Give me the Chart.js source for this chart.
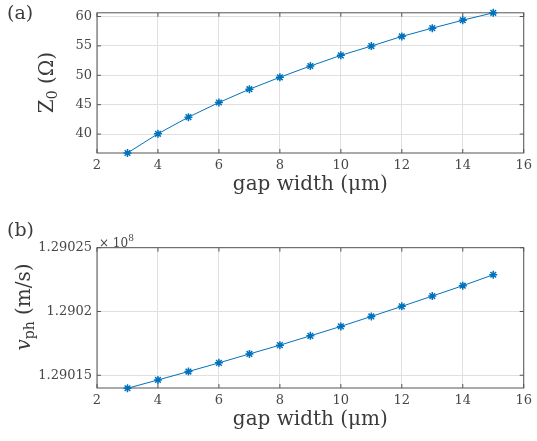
<!DOCTYPE html>
<html><head><meta charset="utf-8">
<script src="https://cdn.jsdelivr.net/npm/chart.js@4/dist/chart.umd.min.js"></script>
<style>
html,body{margin:0;padding:0;background:#fff;}
#wrap{position:relative;width:537px;height:441px;overflow:hidden;}
canvas{position:absolute;left:0;}
#c1{top:0;} #c2{top:200px;}
</style></head><body>
<div id="wrap">
<canvas id="c1" width="537" height="200"></canvas>
<canvas id="c2" width="537" height="241"></canvas>
</div>
<script>
// Gap width sweep (µm)
const gapWidth = [3, 4, 5, 6, 7, 8, 9, 10, 11, 12, 13, 14, 15];
// Characteristic impedance Z0 (Ohm)
const z0 = [36.78, 40.05, 42.88, 45.37, 47.63, 49.66, 51.58, 53.39, 54.97, 56.61, 58.02, 59.37, 60.63];
// Phase velocity, in units of 1e8 m/s
const vphE8 = [1.2901398, 1.2901463, 1.2901529, 1.2901597, 1.2901667, 1.2901736, 1.2901809,
               1.2901883, 1.2901961, 1.2902040, 1.2902121, 1.2902202, 1.2902288];

const xTicks = [2, 4, 6, 8, 10, 12, 14, 16];
const z0Ticks = [40, 45, 50, 55, 60];
const vphTicks = [1.29015, 1.2902, 1.29025];
const vphTickLabels = ['1.29015', '1.2902', '1.29025'];

const FONT = '"DejaVu Serif", serif';
const LINE = '#0072BD';
const TICK_COLOR = '#474747';
const LABEL_COLOR = '#3a3a3a';
const GRID = '#e0e0e0';

// Axes box with inward tick marks on all four sides (MATLAB-style)
const boxPlugin = {
  id: 'box',
  beforeDatasetsDraw(chart) {
    const {ctx, chartArea: a, scales} = chart;
    const tl = 4;
    ctx.save();
    ctx.strokeStyle = '#555';
    ctx.lineWidth = 1;
    ctx.beginPath();
    for (const t of scales.x.ticks) {
      const px = scales.x.getPixelForValue(t.value);
      ctx.moveTo(px, a.bottom); ctx.lineTo(px, a.bottom - tl);
      ctx.moveTo(px, a.top); ctx.lineTo(px, a.top + tl);
    }
    for (const t of scales.y.ticks) {
      const py = scales.y.getPixelForValue(t.value);
      ctx.moveTo(a.left, py); ctx.lineTo(a.left + tl, py);
      ctx.moveTo(a.right, py); ctx.lineTo(a.right - tl, py);
    }
    ctx.stroke();
    ctx.strokeRect(a.left, a.top, a.right - a.left, a.bottom - a.top);
    ctx.restore();
  }
};

// Draws text runs (normal / subscript / superscript) along a baseline
function drawRuns(ctx, runs, x, y) {
  let cx = x;
  for (const r of runs) {
    ctx.font = r.font;
    ctx.fillText(r.text, cx, y + (r.dy || 0));
    cx += ctx.measureText(r.text).width;
  }
}
function runsWidth(ctx, runs) {
  let w = 0;
  for (const r of runs) { ctx.font = r.font; w += ctx.measureText(r.text).width; }
  return w;
}

// Panel letter, rotated y-axis title and optional exponent note
function annotPlugin(opts) {
  return {
    id: 'annot',
    afterDraw(chart) {
      const ctx = chart.ctx;
      ctx.save();
      ctx.fillStyle = LABEL_COLOR;
      ctx.textBaseline = 'middle';
      ctx.textAlign = 'left';
      ctx.font = '19px ' + FONT;
      ctx.fillText(opts.panel, 7, opts.panelY);

      ctx.save();
      ctx.translate(opts.yTitleX, opts.yTitleY);
      ctx.rotate(-Math.PI / 2);
      const w = runsWidth(ctx, opts.yTitle);
      drawRuns(ctx, opts.yTitle, -w / 2, 0);
      ctx.restore();

      if (opts.exponent) {
        ctx.fillStyle = TICK_COLOR;
        ctx.textBaseline = 'alphabetic';
        drawRuns(ctx, opts.exponent, 99, opts.exponentY);
      }
      ctx.restore();
    }
  };
}

function makeChart(id, yValues, yMin, yMax, yTicks, yLabel, padTop, xAxisHeight, titlePad, annot) {
  return new Chart(document.getElementById(id), {
    type: 'line',
    data: {
      datasets: [{
        data: gapWidth.map((x, i) => ({x: x, y: yValues[i]})),
        borderColor: LINE,
        borderWidth: 1,
        pointStyle: 'star',
        pointRadius: 4,
        pointBorderColor: LINE,
        pointBackgroundColor: LINE,
        pointBorderWidth: 1.5,
        tension: 0,
        clip: false
      }]
    },
    options: {
      responsive: false,
      animation: false,
      layout: {padding: {top: padTop, right: 10, left: 0, bottom: 0}},
      plugins: {legend: {display: false}, tooltip: {enabled: false}},
      scales: {
        x: {
          type: 'linear', min: 2, max: 16,
          afterBuildTicks: s => { s.ticks = xTicks.map(v => ({value: v})); },
          afterFit: s => { s.height = xAxisHeight; },
          grid: {color: GRID, drawTicks: false, lineWidth: 1},
          border: {display: false},
          ticks: {padding: 5, color: TICK_COLOR, font: {family: FONT, size: 13}, maxRotation: 0, autoSkip: false},
          title: {display: true, text: 'gap width (μm)', color: LABEL_COLOR,
                  font: {family: FONT, size: 20}, padding: {top: 0, bottom: titlePad}}
        },
        y: {
          type: 'linear', min: yMin, max: yMax,
          afterBuildTicks: s => { s.ticks = yTicks.map(v => ({value: v})); },
          afterFit: s => { s.width = 97; },
          grid: {color: GRID, drawTicks: false, lineWidth: 1},
          border: {display: false},
          ticks: {padding: 5, color: TICK_COLOR, font: {family: FONT, size: 13}, autoSkip: false,
                  callback: (v, i) => yLabel[i]}
        }
      }
    },
    plugins: [boxPlugin, annotPlugin(annot)]
  });
}

const F20 = '20px ' + FONT;
const F13 = '14px ' + FONT;

makeChart('c1', z0, 36.78, 60.63, z0Ticks, z0Ticks.map(String), 12.3, 47, 3, {
  panel: '(a)', panelY: 14.5,
  yTitleX: 48, yTitleY: 82.5,
  yTitle: [{text: 'Z', font: F20}, {text: '0', font: F13, dy: 5}, {text: ' (Ω)', font: F20}]
});

makeChart('c2', vphE8, 1.29014, 1.29025, vphTicks, vphTickLabels, 47.7, 53, 9, {
  panel: '(b)', panelY: 31,
  yTitleX: 25, yTitleY: 107,
  yTitle: [{text: 'v', font: 'italic ' + F20}, {text: 'ph', font: F13, dy: 5}, {text: ' (m/s)', font: F20}],
  exponent: [{text: '× 10', font: '12px ' + FONT}, {text: '8', font: '9px ' + FONT, dy: -6}],
  exponentY: 47
});
</script>
</body></html>
